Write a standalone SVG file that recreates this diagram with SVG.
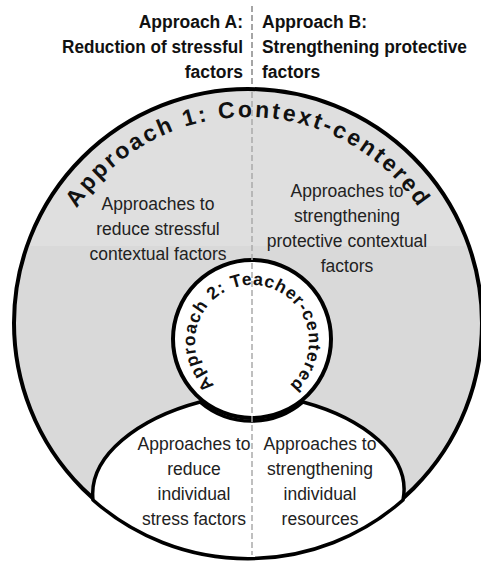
<svg xmlns="http://www.w3.org/2000/svg" width="481" height="563" viewBox="0 0 481 563">
<style>
.hdr{font-family:"Liberation Sans",Arial,sans-serif;font-weight:bold;font-size:17.5px;fill:#111}
.body{font-family:"Liberation Sans",Arial,sans-serif;font-size:17.5px;fill:#222;text-anchor:middle}
.arc1{font-family:"Liberation Sans",Arial,sans-serif;font-weight:bold;font-size:23px;fill:#111}
.arc2{font-family:"Liberation Sans",Arial,sans-serif;font-weight:bold;font-size:17.5px;fill:#111}
.outline{stroke:#000;stroke-width:4}
</style>
<defs>
<path id="p1" d="M 42,323 A 206 206 0 0 1 454,323"/>
<path id="p2" d="M 252,399 A 57 57 0 1 1 252,285 A 57 57 0 1 1 252,399"/>
<clipPath id="cc"><circle cx="248" cy="323" r="234"/></clipPath>
</defs>
<rect width="481" height="563" fill="#fff"/>
<g id="outer-circle">
<g clip-path="url(#cc)">
<rect x="0" y="80" width="481" height="166" fill="#dfdfdf"/>
<rect x="0" y="246" width="481" height="320" fill="#d9d9d9"/>
</g>
<circle cx="248" cy="323" r="234" fill="none" class="outline"/>
<text class="arc1" letter-spacing="2"><textPath href="#p1" startOffset="50%" text-anchor="middle" textLength="404" lengthAdjust="spacing">Approach 1: Context-centered</textPath></text>
</g>
<g id="individual-shape">
<path d="M 200,402 C 140,418 88,455 93,500 A 234 234 0 0 0 403,500 C 412,455 362,418 303,402 A 79 79 0 0 1 200,402 Z" fill="#fff" stroke="#000" stroke-width="3.5"/>
</g>
<g id="inner-circle">
<circle cx="252" cy="339" r="79" fill="#fff" class="outline"/>
<text class="arc2"><textPath href="#p2" startOffset="50%" text-anchor="middle" textLength="276" lengthAdjust="spacing">Approach 2: Teacher-centered</textPath></text>
</g>
<g id="divider">
<line x1="252" y1="6" x2="252" y2="86" stroke="#888" stroke-width="1.5" stroke-dasharray="6,3"/>
<line x1="252" y1="92" x2="252" y2="555" stroke="#aaa" stroke-width="1.5" stroke-dasharray="6,3"/>
</g>
<g id="header-a">
<text class="hdr" text-anchor="end"><tspan x="243" y="28">Approach A:</tspan><tspan x="243" y="53" textLength="181" lengthAdjust="spacingAndGlyphs">Reduction of stressful</tspan><tspan x="243" y="78">factors</tspan></text>
</g>
<g id="header-b">
<text class="hdr"><tspan x="262" y="28">Approach B:</tspan><tspan x="262" y="53" textLength="205" lengthAdjust="spacingAndGlyphs">Strengthening protective</tspan><tspan x="262" y="78">factors</tspan></text>
</g>
<g id="context-stress">
<text class="body"><tspan x="158" y="210">Approaches to</tspan><tspan x="158" y="235">reduce stressful</tspan><tspan x="158" y="260">contextual factors</tspan></text>
</g>
<g id="context-protective">
<text class="body"><tspan x="347" y="197">Approaches to</tspan><tspan x="347" y="222">strengthening</tspan><tspan x="347" y="247">protective contextual</tspan><tspan x="347" y="272">factors</tspan></text>
</g>
<g id="individual-stress">
<text class="body"><tspan x="194" y="450">Approaches to</tspan><tspan x="194" y="475">reduce</tspan><tspan x="194" y="500">individual</tspan><tspan x="194" y="525">stress factors</tspan></text>
</g>
<g id="individual-resources">
<text class="body"><tspan x="320" y="450">Approaches to</tspan><tspan x="320" y="475">strengthening</tspan><tspan x="320" y="500">individual</tspan><tspan x="320" y="525">resources</tspan></text>
</g>
</svg>
